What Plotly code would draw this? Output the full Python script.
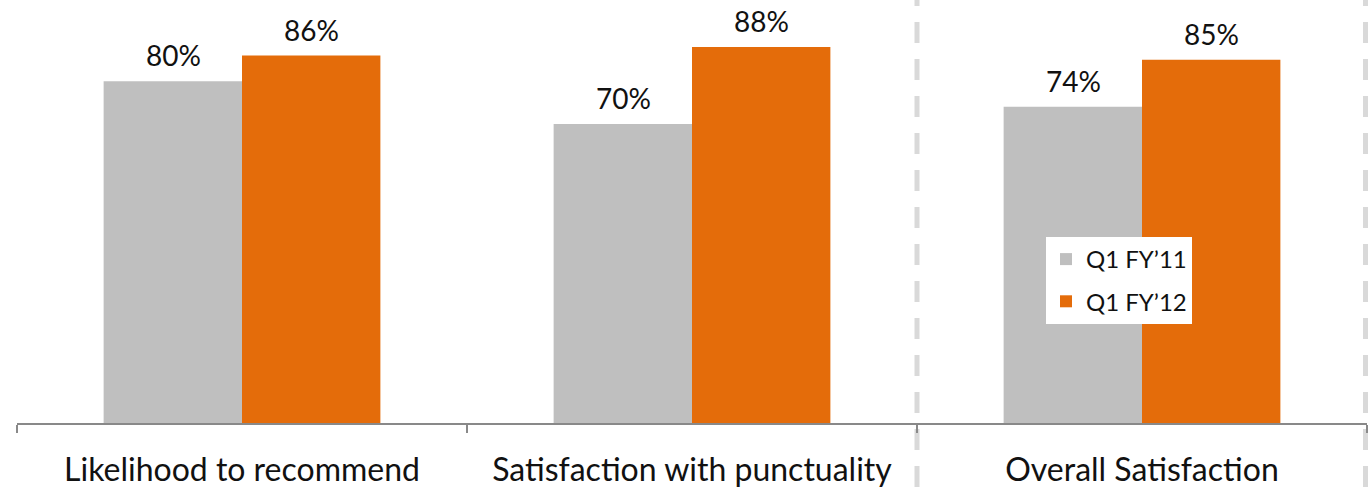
import plotly.graph_objects as go

categories = ["Likelihood to recommend", "Satisfaction with punctuality", "Overall Satisfaction"]
series_names = ["Q1 FY\u201911", "Q1 FY\u201912"]
values_fy11 = [80, 70, 74]
values_fy12 = [86, 88, 85]
colors = ["#BFBFBF", "#E46C0A"]

FONT = "Lato"
BAR_HALF = 69  # pixel offset of each bar centre from category centre

fig = go.Figure()
for i, (name, vals, col) in enumerate(zip(series_names, [values_fy11, values_fy12], colors)):
    fig.add_trace(go.Bar(
        x=categories, y=vals, name=name, legendgroup=name,
        marker=dict(color=col, line=dict(width=0)),
    ))
    shift = -BAR_HALF if i == 0 else BAR_HALF
    for c, v in zip(categories, vals):
        fig.add_annotation(x=c, y=v, text=f"{v}%", showarrow=False,
                           xref="x", yref="y", xshift=shift, yshift=7,
                           yanchor="bottom", xanchor="center",
                           font=dict(family=FONT, size=28, color="#111111"))

for xp in [2/3, 1.0 - 1.5/1350]:
    fig.add_shape(type="line", xref="paper", yref="paper",
                  x0=xp, x1=xp, y0=-64/423, y1=1.0,
                  line=dict(color="#D9D9D9", width=5, dash="21px,16px"), layer="below")

fig.update_layout(
    width=1368, height=487,
    margin=dict(l=17, r=1, t=0, b=64, autoexpand=False),
    paper_bgcolor="white", plot_bgcolor="white",
    barmode="group", bargap=0.385, bargroupgap=0,
    font=dict(family=FONT, color="#111111"),
    showlegend=True,
    legend=dict(x=(1046-17)/1350, y=1-237/423, xanchor="left", yanchor="top",
                bgcolor="white", font=dict(family=FONT, size=24, color="#111111"),
                itemwidth=30, tracegroupgap=8, traceorder="grouped",
                entrywidth=150, entrywidthmode="pixels"),
    xaxis=dict(showline=True, linecolor="#898989", linewidth=2,
               ticks="outside", tickson="boundaries", ticklen=8, tickcolor="#898989", tickwidth=2,
               tickfont=dict(family=FONT, size=32, color="#111111"), automargin=False,
               ticklabelstandoff=18, showgrid=False, range=[-0.5, 2.5]),
    yaxis=dict(range=[0, 99], visible=False, showgrid=False, automargin=False),
)

fig.write_html("out.html")
